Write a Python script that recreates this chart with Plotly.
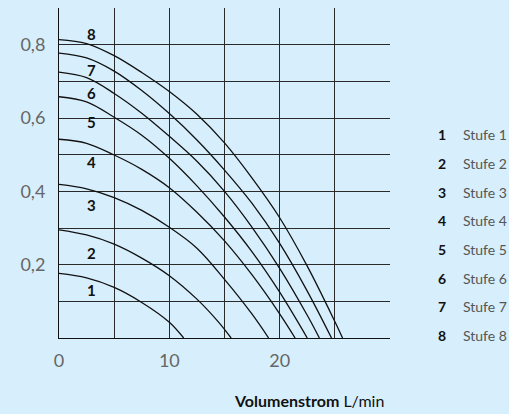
"""
Pump curves: Förderhöhe over Volumenstrom for the eight Stufen.
"""

import plotly.graph_objects as go

# ── Data ───────────────────────────────────────────────────────────────────────

STUFEN = ["1", "2", "3", "4", "5", "6", "7", "8"]

CURVE_X = [
    [0, 2.5, 5, 7.5, 10, 11.3],
    [0, 2.5, 5, 7.5, 10, 12.5, 14.5, 15.6],
    [0, 2.5, 5, 7.5, 10, 12.5, 15, 17.5, 19.0],
    [0, 2.5, 5, 7.5, 10, 12.5, 15, 17.5, 20, 21.4],
    [0, 2.5, 5, 7.5, 10, 12.5, 15, 17.5, 20, 22.5],
    [0, 2.5, 5, 7.5, 10, 12.5, 15, 17.5, 20, 22.5, 23.6],
    [0, 2.5, 5, 7.5, 10, 12.5, 15, 17.5, 20, 22.5, 24.7],
    [0, 2.5, 5, 7.5, 10, 12.5, 15, 17.5, 20, 22.5, 25, 25.7],
]
CURVE_Y = [
    [0.176, 0.164, 0.138, 0.097, 0.043, 0],
    [0.295, 0.281, 0.256, 0.218, 0.170, 0.106, 0.042, 0],
    [0.419, 0.407, 0.383, 0.348, 0.302, 0.245, 0.160, 0.065, 0],
    [0.542, 0.531, 0.499, 0.460, 0.410, 0.343, 0.265, 0.172, 0.066, 0],
    [0.658, 0.644, 0.602, 0.553, 0.490, 0.415, 0.330, 0.235, 0.125, 0],
    [0.725, 0.710, 0.667, 0.613, 0.550, 0.482, 0.400, 0.302, 0.190, 0.062, 0],
    [0.777, 0.764, 0.728, 0.675, 0.612, 0.540, 0.458, 0.367, 0.258, 0.128, 0],
    [0.814, 0.803, 0.770, 0.724, 0.672, 0.610, 0.532, 0.436, 0.328, 0.196, 0.045, 0],
]

X_TICKS = [0, 5, 10, 15, 20, 25]
X_TICKTEXT = ["0", "", "10", "", "20", ""]
Y_TICKS = [0.1, 0.2, 0.3, 0.4, 0.5, 0.6, 0.7, 0.8]
Y_TICKTEXT = ["", "0,2", "", "0,4", "", "0,6", "", "0,8"]

LEGEND_TEXT = [f"Stufe {s}" for s in STUFEN]

# ── Layout constants ───────────────────────────────────────────────────────────

W, H = 509, 414
PLOT_L, PLOT_R, PLOT_T, PLOT_B = 59, 390, 8, 338
BG = "#d7effc"
INK = "#111111"
GREY = "#666666"
FONT = "Lato, sans-serif"

LABEL_X = 2.93                                   # curve numbers, data units
LABEL_Y = [0.132, 0.231, 0.362, 0.479, 0.590, 0.667, 0.730, 0.830]


def paper_x(px):
    return (px - PLOT_L) / (PLOT_R - PLOT_L)


def paper_y(py):
    return (PLOT_B - py) / (PLOT_B - PLOT_T)


fig = go.Figure()

for name, xs, ys in zip(STUFEN, CURVE_X, CURVE_Y):
    fig.add_trace(go.Scatter(
        x=xs, y=ys, name=f"Stufe {name}", mode="lines",
        line=dict(color=INK, width=1.3, shape="spline", smoothing=1),
        showlegend=False, hoverinfo="skip",
    ))

annotations = []

# numbers next to the curves
for name, ly in zip(STUFEN, LABEL_Y):
    annotations.append(dict(
        x=LABEL_X, y=ly, xref="x", yref="y", text=f"<b>{name}</b>",
        showarrow=False, font=dict(family=FONT, size=15, color=INK),
    ))

# legend on the right
for i, (name, txt) in enumerate(zip(STUFEN, LEGEND_TEXT)):
    py = 134.6 + 28.7 * i
    annotations.append(dict(
        x=paper_x(448), y=paper_y(py), xref="paper", yref="paper",
        xanchor="right", yanchor="middle", text=f"<b>{name}</b>",
        showarrow=False, font=dict(family=FONT, size=14, color=INK),
    ))
    annotations.append(dict(
        x=paper_x(461), y=paper_y(py), xref="paper", yref="paper",
        xanchor="left", yanchor="middle", text=txt,
        showarrow=False, font=dict(family=FONT, size=14, color="#555555"),
    ))

# axis title
annotations.append(dict(
    x=paper_x(232), y=paper_y(400), xref="paper", yref="paper",
    xanchor="left", yanchor="middle",
    text="<b>Volumenstrom</b> L/min", showarrow=False,
    font=dict(family=FONT, size=16, color=INK),
))

fig.update_layout(
    width=W, height=H,
    margin=dict(l=PLOT_L, r=W - PLOT_R, t=PLOT_T, b=H - PLOT_B),
    paper_bgcolor=BG, plot_bgcolor=BG,
    font=dict(family=FONT, color=GREY),
    annotations=annotations,
    showlegend=False,
    xaxis=dict(
        range=[0, 30], tickvals=X_TICKS, ticktext=X_TICKTEXT,
        showgrid=True, gridcolor="#2a2a2a", gridwidth=1,
        zeroline=False, showline=True, linecolor=INK, linewidth=1,
        ticks="", ticklabelstandoff=6,
        tickfont=dict(family=FONT, size=18, color=GREY),
    ),
    yaxis=dict(
        range=[0, 0.9], tickvals=Y_TICKS, ticktext=Y_TICKTEXT,
        showgrid=True, gridcolor="#2a2a2a", gridwidth=1,
        zeroline=False, showline=True, linecolor=INK, linewidth=1,
        ticks="", ticklabelstandoff=9,
        tickfont=dict(family=FONT, size=18, color=GREY),
    ),
)

# the page's default body margin would push the chart 8px right and down
fig.write_html(
    "out.html",
    config={"displayModeBar": False},
    post_script=f"document.body.style.margin='0';"
                f"document.body.style.background='{BG}';",
)
